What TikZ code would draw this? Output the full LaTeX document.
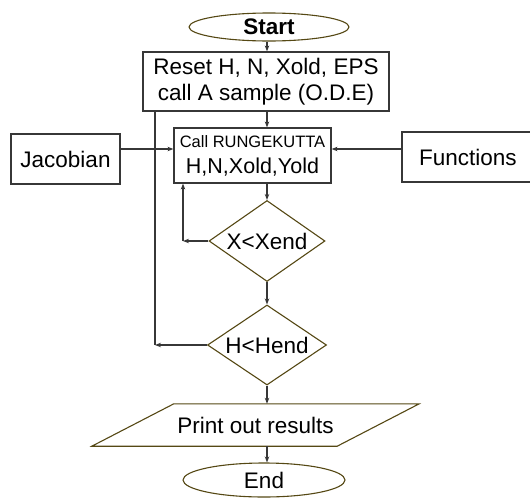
\documentclass[tikz,border=0pt]{standalone}
\usepackage{fontspec}
\setmainfont{Liberation Sans}
\usetikzlibrary{shapes.geometric,arrows.meta,calc}
\definecolor{olv}{RGB}{85,72,20}
\definecolor{edgec}{RGB}{55,55,55}
\begin{document}
\begin{tikzpicture}[x=1pt,y=-1pt,
  every node/.style={font=\fontsize{22.5}{26}\selectfont, text=black, inner sep=0pt},
  term/.style={ellipse, draw=olv, line width=1.1pt},
  box/.style={rectangle, draw=edgec, line width=1.2pt},
  dec/.style={diamond, draw=olv, line width=1.1pt, aspect=1.45},
  conn/.style={draw=edgec, line width=1.1pt},
  arr/.style={conn, -{Stealth[length=6pt,width=4.5pt]}}]
\useasboundingbox (0,0) rectangle (530,498);
\clip (0,0) rectangle (530,498);

\node[term, minimum width=160, minimum height=28, font=\fontsize{22.5}{26}\selectfont\bfseries] (start) at (269,27) {Start};
\node[box, minimum width=246, minimum height=59, align=center] (reset) at (266,81.5) {Reset H, N, Xold, EPS\\call A sample (O.D.E)};
\node[box, minimum width=157, minimum height=55, align=center] (call) at (252.5,155.5) {{\fontsize{16.5}{18}\selectfont Call RUNGEKUTTA}\\{\fontsize{21.5}{26}\selectfont H,N,Xold,Yold}};
\node[box, minimum width=109, minimum height=50] (jac) at (65.5,159) {Jacobian};
\node[box, minimum width=140, minimum height=50, text width=136, align=left] (fun) at (472,157) {\hspace*{15pt}Functions};
\node[dec, minimum width=116, minimum height=81] (xd) at (267,241) {X<Xend};
\node[dec, minimum width=119, minimum height=80] (hd) at (267,345) {H<Hend};
\node[minimum width=245, minimum height=42] (print) at (255.5,425) {Print out results};
\draw[olv, line width=1.1pt] ($(print.north west)+(41,0)$) -- ($(print.north east)+(41,0)$) -- ($(print.south east)+(-41,0)$) -- ($(print.south west)+(-41,0)$) -- cycle;
\node[term, minimum width=162, minimum height=34] (end) at (264,480) {End};

\coordinate (jy) at (0,149);
\coordinate (xl) at (183,241);
\coordinate (hl) at (155,345);

\draw[arr] (start.south -| xd) -- (reset.north -| xd);
\draw[arr] (reset.south -| xd) -- (call.north -| xd);
\draw[arr] (jac.east |- jy) -- (call.west |- jy);
\draw[arr] (fun.west |- jy) -- (call.east |- jy);
\draw[arr] (call.south -| xd) -- (xd.north);
\draw[arr] (xd.west) -- (xl);
\draw[arr] (xl) -- (call.south -| xl);
\draw[arr] (xd.south) -- (hd.north);
\draw[arr] (hd.west) -- (hl);
\draw[conn] (hl) -- (reset.south -| hl);
\draw[arr] (hd.south) -- (hd.south |- print.north);
\draw[arr] (print.south -| hd) -- (end.north -| hd);
\end{tikzpicture}
\end{document}
